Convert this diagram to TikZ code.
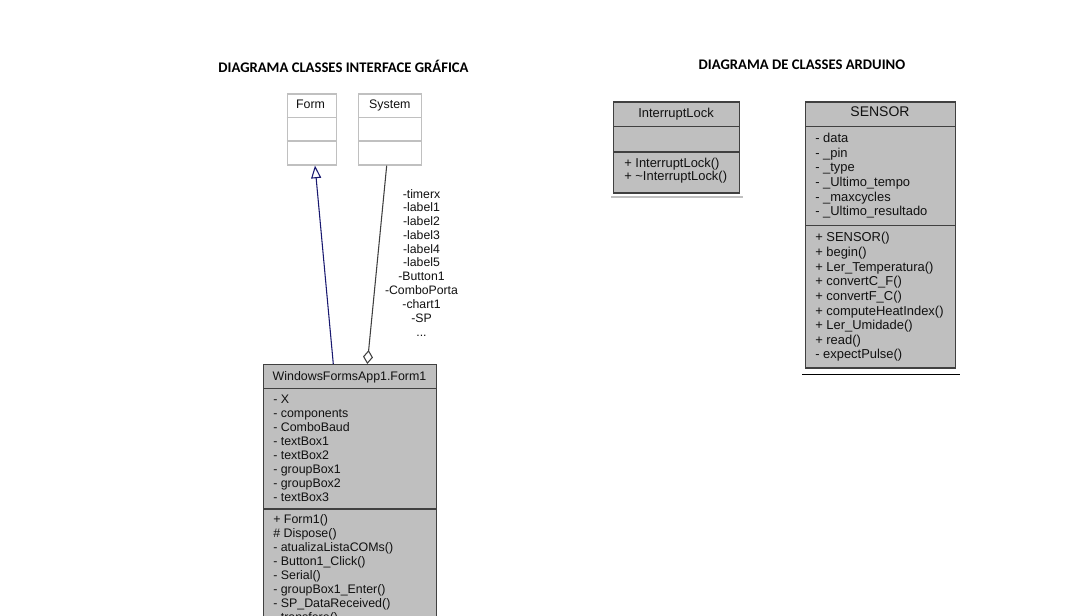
\documentclass[tikz,border=0pt]{standalone}
\usepackage{fontspec}
\setmainfont{Liberation Sans}
\newfontfamily\titlefont{Carlito}
\usetikzlibrary{arrows.meta}
\definecolor{boxgray}{HTML}{BFBFBF}
\definecolor{boxedge}{HTML}{404040}
\definecolor{lightedge}{HTML}{C0C0C0}
\definecolor{navyline}{HTML}{191970}
\definecolor{txt}{HTML}{111111}
\begin{document}
\begin{tikzpicture}[x=0.75pt,y=-0.75pt,
  classbox/.style={draw=boxedge, fill=boxgray, line width=1pt, rectangle, inner sep=0pt, anchor=north west},
  plainbox/.style={draw=lightedge, fill=white, line width=0.8pt, rectangle, inner sep=0pt, anchor=north west},
  sepline/.style={draw=boxedge, line width=1pt},
  lightsep/.style={draw=lightedge, line width=0.8pt},
  formtxt/.style={font=\fontsize{9.3}{10.5}\selectfont, text=txt, inner sep=0pt, align=left, anchor=base west},
  ardtxt/.style={font=\fontsize{9.7}{11}\selectfont, text=txt, inner sep=0pt, align=left, anchor=base west},
  headtxt/.style={inner sep=0pt, anchor=base, text=txt},
  titletxt/.style={font=\titlefont\bfseries\fontsize{11}{13}\selectfont, inner sep=0pt, anchor=base},
  rolestyle/.style={font=\fontsize{9.2}{10.35}\selectfont, text=txt, inner sep=0pt, align=center, anchor=base}
]
\useasboundingbox (0,0) rectangle (1070,616);
\clip (0,0) rectangle (1070,616);
\fill[white] (0,0) rectangle (1070,616);

% titles
\node[titletxt] (title1) at (343.5,73) {DIAGRAMA CLASSES INTERFACE GRÁFICA};
\node[titletxt] (title2) at (802,70) {DIAGRAMA DE CLASSES ARDUINO};

% Form
\node[plainbox, minimum width=36.75pt, minimum height=53.25pt] (form) at (286.5,93.5) {};
\draw[lightsep] (form.west |- 0,117.3) -- (form.east |- 0,117.3);
\draw[lightsep] (form.west |- 0,141) -- (form.east |- 0,141);
\node[headtxt, font=\fontsize{9.3}{10.5}\selectfont] (formname) at (310.5,108.8) {Form};

% System
\node[plainbox, minimum width=47.25pt, minimum height=53.25pt] (system) at (358.3,93.5) {};
\draw[lightsep] (system.west |- 0,117.3) -- (system.east |- 0,117.3);
\draw[lightsep] (system.west |- 0,141) -- (system.east |- 0,141);
\node[headtxt, font=\fontsize{9.3}{10.5}\selectfont] (systemname) at (389.8,108.8) {System};

% Form1
\node[classbox, minimum width=129.75pt, minimum height=240pt] (form1) at (263,364) {};
\draw[sepline] (form1.west |- 0,388.5) -- (form1.east |- 0,388.5);
\draw[sepline] (form1.west |- 0,509) -- (form1.east |- 0,509);
\node[headtxt, font=\fontsize{9.3}{10.5}\selectfont] (form1name) at (349.5,380) {WindowsFormsApp1.Form1};
\node[formtxt] (form1attr) at (273,501) {- X\\- components\\- ComboBaud\\- textBox1\\- textBox2\\- groupBox1\\- groupBox2\\- textBox3};
\node[formtxt] (form1meth) at (273,621.5) {+ Form1()\\\# Dispose()\\- atualizaListaCOMs()\\- Button1\_Click()\\- Serial()\\- groupBox1\_Enter()\\- SP\_DataReceived()\\- transfere()};

% connectors
\draw[navyline, line width=0.8pt, -{Triangle[open, length=9.5pt, width=7.5pt, fill=white]}]
  (form1.north -| 333.3,0) -- (form.south -| 315,0);
\draw[boxedge, line width=0.8pt, {Diamond[open, length=10.5pt, width=7.5pt, fill=white]}-]
  (form1.north -| 367.3,0) -- (system.south -| 386.7,0);
\node[rolestyle] (roles) at (421.5,336) {-timerx\\-label1\\-label2\\-label3\\-label4\\-label5\\-Button1\\-ComboPorta\\-chart1\\-SP\\...};

% InterruptLock
\node[classbox, minimum width=94.5pt, minimum height=68.25pt] (ilock) at (613,101.3) {};
\draw[sepline] (ilock.west |- 0,126.7) -- (ilock.east |- 0,126.7);
\draw[sepline] (ilock.west |- 0,152) -- (ilock.east |- 0,152);
\node[headtxt, font=\fontsize{9.7}{11}\selectfont] (ilockname) at (676,118) {InterruptLock};
\node[ardtxt, font=\fontsize{9.7}{10.05}\selectfont] (ilockmeth) at (624,180.9) {+ InterruptLock()\\+ \textasciitilde InterruptLock()};
\coordinate (ilshadowl) at (611,197);
\coordinate (ilshadowr) at (743,197);
\draw[lightsep] (ilshadowl) -- (ilshadowr);

% SENSOR
\node[classbox, minimum width=112.5pt, minimum height=199.5pt] (sensor) at (805,101.3) {};
\draw[sepline] (sensor.west |- 0,126.5) -- (sensor.east |- 0,126.5);
\draw[sepline] (sensor.west |- 0,225.5) -- (sensor.east |- 0,225.5);
\node[headtxt, font=\fontsize{10.5}{12}\selectfont] (sensorname) at (880,116.5) {SENSOR};
\node[ardtxt] (sensorattr) at (815,215.8) {- data\\- \_pin\\- \_type\\- \_Ultimo\_tempo\\- \_maxcycles\\- \_Ultimo\_resultado};
\node[ardtxt, font=\fontsize{9.7}{10.95}\selectfont] (sensormeth) at (815,358.8) {+ SENSOR()\\+ begin()\\+ Ler\_Temperatura()\\+ convertC\_F()\\+ convertF\_C()\\+ computeHeatIndex()\\+ Ler\_Umidade()\\+ read()\\- expectPulse()};
\coordinate (snshadowl) at (802,374.5);
\coordinate (snshadowr) at (960,374.5);
\draw[black, line width=1pt] (snshadowl) -- (snshadowr);
\end{tikzpicture}
\end{document}
